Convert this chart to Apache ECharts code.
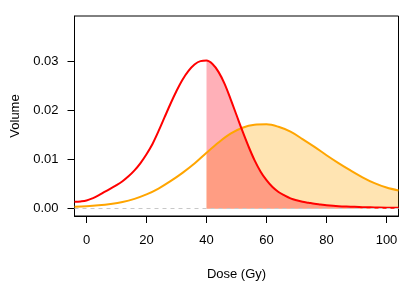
<!DOCTYPE html>
<html>
<head>
<meta charset="utf-8">
<script src="https://cdn.jsdelivr.net/npm/echarts@6/dist/echarts.min.js"></script>
<style>html,body{margin:0;padding:0;background:#fff}#c{width:415px;height:291px}</style>
</head>
<body>
<div id="c"></div>
<script>
// Red curve (dose, volume)
const redDose = [-4,-2,0,2,4,6,8,10,12,14,16,18,20,22,24,26,28,30,32,34,36,38,40,42,44,46,48,50,52,54,56,58,60,62,64,66,68,70,72,74,76,78,80,84,88,92,96,100,104];
const redVol  = [0.00140,0.00148,0.00165,0.0021,0.0027,0.0034,0.0041,0.0048,0.0056,0.0066,0.0078,0.0093,0.0111,0.0132,0.0158,0.0186,0.0214,0.0240,0.0263,0.0281,0.0294,0.0301,0.0302,0.0295,0.0279,0.0255,0.0224,0.0191,0.0158,0.0127,0.0099,0.0076,0.0058,0.0044,0.0034,0.0027,0.0021,0.0017,0.0014,0.0012,0.0010,0.00085,0.0007,0.0005,0.0004,0.0003,0.00025,0.0002,0.0002];
// Orange curve (dose, volume)
const orangeDose = [-4,0,4,8,12,16,20,24,28,32,36,40,44,48,52,56,60,64,68,72,76,80,84,88,92,96,100,104];
const orangeVol  = [0.00040,0.00050,0.00068,0.00095,0.00135,0.0020,0.0029,0.0041,0.0056,0.0073,0.0092,0.0114,0.0135,0.0153,0.0165,0.0171,0.0172,0.0167,0.0157,0.0142,0.0126,0.0109,0.0093,0.0078,0.0064,0.0052,0.0043,0.0037];
const fillFrom = 40;
const xTicks = [0,20,40,60,80,100];
const yTicks = [0,0.01,0.02,0.03];
const xTitle = 'Dose (Gy)';
const yTitle = 'Volume';

const pairs = (xs, ys) => xs.map((x,i)=>[x, ys[i]]);
const redData = pairs(redDose, redVol);
const orangeData = pairs(orangeDose, orangeVol);
const redFill = redData.filter(p => p[0] >= fillFrom);
const orangeFill = orangeData.filter(p => p[0] >= fillFrom);

const font = 'Liberation Sans, Arial, Helvetica, sans-serif';
const chart = echarts.init(document.getElementById('c'), null, {renderer:'canvas'});
chart.setOption({
  animation: false,
  backgroundColor: '#fff',
  grid: {left: 74.5, right: 16.5, top: 16, bottom: 75, show: true, borderColor: '#000', borderWidth: 1, backgroundColor: 'transparent'},
  xAxis: {
    type: 'value', min: -4, max: 104,
    name: xTitle, nameLocation: 'middle', nameGap: 52,
    nameTextStyle: {fontFamily: font, fontSize: 13, color: '#000'},
    axisLine: {show: true, onZero: false, lineStyle: {color: '#000', width: 1}},
    axisTick: {show: true, length: 7, inside: false, customValues: xTicks, lineStyle: {color: '#000'}},
    axisLabel: {customValues: xTicks, margin: 18, fontFamily: font, fontSize: 13, color: '#000', formatter: v => String(v)},
    splitLine: {show: false}
  },
  yAxis: {
    type: 'value', min: -0.0015, max: 0.0393,
    name: yTitle, nameLocation: 'middle', nameGap: 51,
    nameTextStyle: {fontFamily: font, fontSize: 13, color: '#000'},
    axisLine: {show: true, onZero: false, lineStyle: {color: '#000', width: 1}},
    axisTick: {show: true, length: 7, inside: false, customValues: yTicks, lineStyle: {color: '#000'}},
    axisLabel: {customValues: yTicks, margin: 16, fontFamily: font, fontSize: 13, color: '#000', formatter: v => v.toFixed(2)},
    splitLine: {show: false}
  },
  series: [
    {
      type: 'line', data: orangeFill, smooth: 0.35, symbol: 'none', z: 1,
      lineStyle: {width: 0}, areaStyle: {color: 'rgba(255,165,0,0.3)', opacity: 1},
      markLine: {silent: true, symbol: 'none', label: {show: false},
        lineStyle: {type: [4,4], color: '#c8c8c8', width: 1}, data: [{yAxis: 0}]}
    },
    {
      type: 'line', data: redFill, smooth: 0.35, symbol: 'none', z: 2,
      lineStyle: {width: 0}, areaStyle: {color: 'rgba(255,0,25,0.31)', opacity: 1}
    },
    {
      type: 'line', data: orangeData, smooth: 0.35, symbol: 'none', z: 3,
      lineStyle: {color: '#FFA500', width: 2}
    },
    {
      type: 'line', data: redData, smooth: 0.35, symbol: 'none', z: 4,
      lineStyle: {color: '#FF0000', width: 2}
    }
  ]
});
</script>
</body>
</html>
